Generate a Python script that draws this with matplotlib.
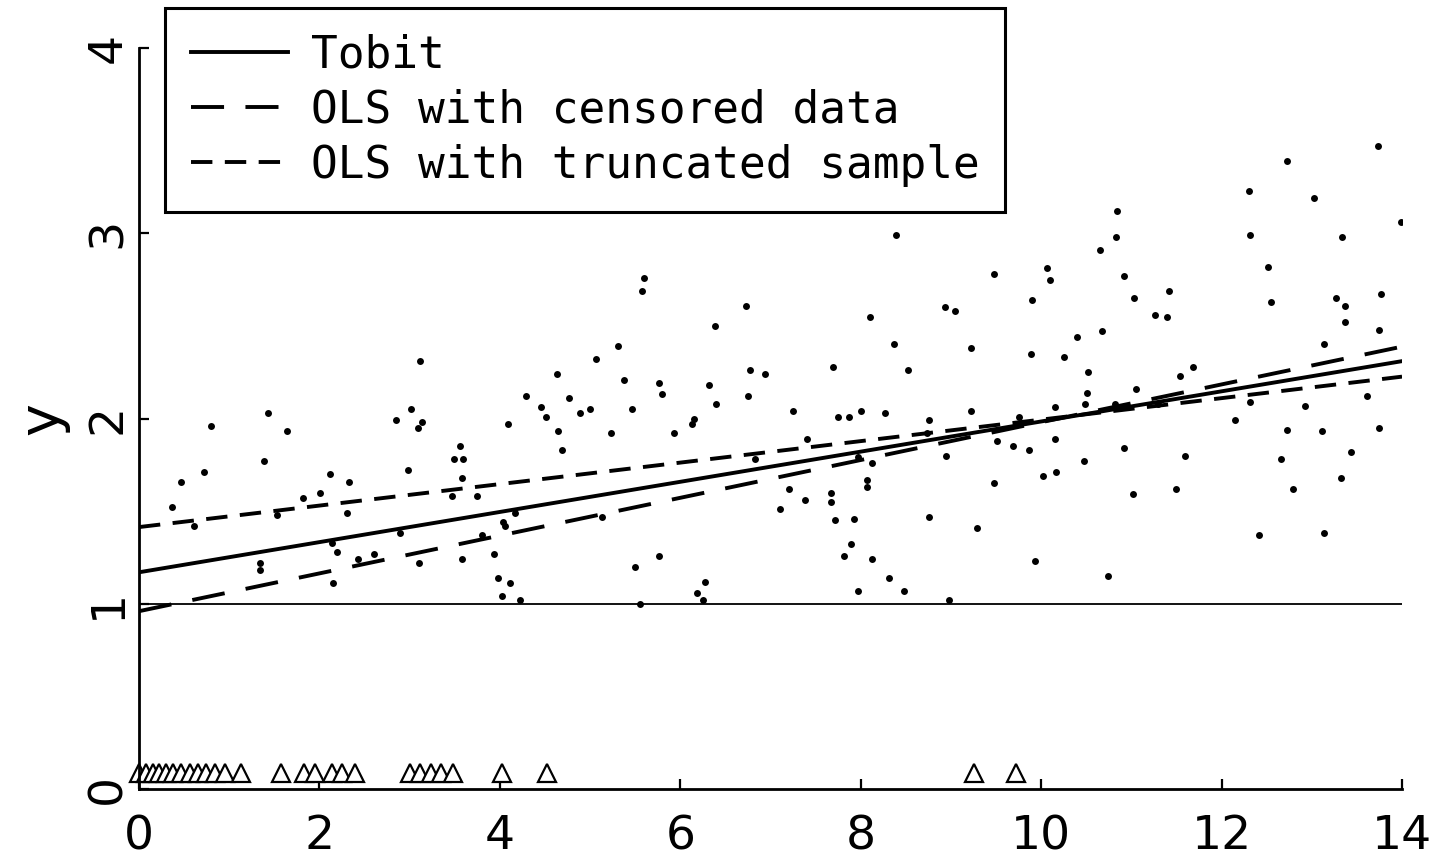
import numpy as np
import matplotlib
matplotlib.use("Agg")
import matplotlib.pyplot as plt

# observed (uncensored) points
dot_x = [3.12, 1.43, 0.80, 1.64, 2.85, 3.02, 3.14, 3.09, 3.56, 3.49, 3.59, 3.58,
         1.39, 0.72, 0.46, 0.37, 2.12, 2.33, 2.01, 1.82, 2.98, 2.30, 1.53, 0.61,
         3.47, 2.14, 2.20, 1.34, 1.34, 2.15, 2.43, 2.61, 3.10, 3.58, 2.89,
         5.60, 5.58, 6.73, 6.38, 5.31, 5.07, 6.77, 6.94, 4.63, 5.38, 5.76, 5.80,
         6.32, 4.29, 6.75, 4.77, 4.46, 4.51, 4.89, 5.00, 5.47, 6.40, 4.09, 6.15,
         6.13, 4.64, 5.23, 5.93, 4.69, 3.75, 4.17, 4.04, 4.06, 3.80, 5.13, 3.94,
         3.98, 4.11, 4.02, 4.22, 5.76, 5.50, 5.55, 6.27, 6.18, 6.25, 7.11, 6.83,
         8.39, 10.65, 10.06, 10.10, 9.48, 9.90, 8.10, 8.93, 9.04, 8.37, 9.22,
         10.40, 10.67, 9.89, 10.25, 7.69, 8.52, 10.52, 10.51, 10.49, 7.25, 7.75,
         7.87, 8.00, 8.27, 9.22, 10.15, 8.76, 9.75, 7.40, 9.51, 10.15, 9.69, 9.86,
         8.95, 10.47, 8.12, 7.97, 10.02, 10.16, 9.48, 8.07, 8.07, 7.21, 7.38,
         7.67, 7.67, 7.71, 7.93, 8.76, 9.29, 7.89, 7.82, 8.13, 9.93, 8.31, 7.97,
         8.48, 8.98, 8.73,
         13.73, 12.73, 12.30, 13.02, 10.84, 13.99, 10.83, 12.32, 13.34, 12.52,
         10.92, 11.03, 11.42, 11.26, 11.40, 12.55, 13.27, 13.37, 13.77, 13.37,
         13.74, 13.13, 11.68, 11.54, 11.05, 12.32, 12.92, 13.61, 12.15, 12.73,
         13.11, 13.74, 10.92, 11.59, 13.43, 12.66, 13.32, 11.50, 12.79, 11.02,
         12.41, 13.13, 10.74, 11.30, 10.82]
dot_y = [2.31, 2.03, 1.96, 1.93, 1.99, 2.05, 1.98, 1.95, 1.85, 1.78, 1.78, 1.68,
         1.77, 1.71, 1.66, 1.52, 1.70, 1.66, 1.60, 1.57, 1.72, 1.49, 1.48, 1.42,
         1.58, 1.33, 1.28, 1.22, 1.18, 1.11, 1.24, 1.27, 1.22, 1.24, 1.38,
         2.76, 2.69, 2.61, 2.50, 2.39, 2.32, 2.26, 2.24, 2.24, 2.21, 2.19, 2.13,
         2.18, 2.12, 2.12, 2.11, 2.06, 2.01, 2.03, 2.05, 2.05, 2.08, 1.97, 2.00,
         1.97, 1.93, 1.92, 1.92, 1.83, 1.58, 1.49, 1.44, 1.42, 1.37, 1.47, 1.27,
         1.14, 1.11, 1.04, 1.02, 1.26, 1.20, 1.00, 1.12, 1.06, 1.02, 1.51, 1.78,
         2.99, 2.91, 2.81, 2.75, 2.78, 2.64, 2.55, 2.60, 2.58, 2.40, 2.38,
         2.44, 2.47, 2.35, 2.33, 2.28, 2.26, 2.25, 2.14, 2.08, 2.04, 2.01,
         2.01, 2.04, 2.03, 2.04, 2.06, 1.99, 2.01, 1.89, 1.88, 1.89, 1.85, 1.83,
         1.80, 1.77, 1.76, 1.79, 1.69, 1.71, 1.65, 1.67, 1.63, 1.62, 1.56,
         1.60, 1.55, 1.45, 1.46, 1.47, 1.41, 1.32, 1.26, 1.24, 1.23, 1.14, 1.07,
         1.07, 1.02, 1.92,
         3.47, 3.39, 3.23, 3.19, 3.12, 3.06, 2.98, 2.99, 2.98, 2.82,
         2.77, 2.65, 2.69, 2.56, 2.55, 2.63, 2.65, 2.61, 2.67, 2.52,
         2.48, 2.40, 2.28, 2.23, 2.16, 2.09, 2.07, 2.12, 1.99, 1.94,
         1.93, 1.95, 1.84, 1.80, 1.82, 1.78, 1.68, 1.62, 1.62, 1.59,
         1.37, 1.38, 1.15, 2.08, 2.08]

# censored observations (shown as triangles near zero)
cens_x = [0.00, 0.08, 0.15, 0.22, 0.30, 0.38, 0.47, 0.56, 0.65, 0.74, 0.84, 0.95,
          1.13, 1.57, 1.83, 1.95, 2.14, 2.25, 2.39, 3.00, 3.12, 3.24, 3.35, 3.48,
          4.02, 4.52, 9.26, 9.72]
cens_level = 0.085

# fitted lines: intercept, slope
tobit_coef = [1.17, 0.0814]
ols_cens_coef = [0.96, 0.102]
ols_trunc_coef = [1.414, 0.058]
threshold = 1.0

x_line = np.array([0.0, 14.0])

plt.rcParams['font.family'] = ['DejaVu Sans']
fig = plt.figure(figsize=(14.39, 8.63), dpi=100)
ax = fig.add_axes([0.0966, 0.0857, 0.8777, 0.8587])

ax.plot(dot_x, dot_y, 'o', color='black', ms=5, mew=0)
ax.plot(cens_x, [cens_level] * len(cens_x), '^', mfc='white', mec='black',
        ms=13, mew=1.6, clip_on=False)
ax.plot(x_line, [threshold, threshold], color='black', lw=1.3)

l1, = ax.plot(x_line, tobit_coef[0] + tobit_coef[1] * x_line, color='black', lw=2.8)
l2, = ax.plot(x_line, ols_cens_coef[0] + ols_cens_coef[1] * x_line, color='black',
              lw=2.8, ls=(0, (8.5, 5.5)))
l3, = ax.plot(x_line, ols_trunc_coef[0] + ols_trunc_coef[1] * x_line, color='black',
              lw=2.8, ls=(0, (5.5, 3.2)))

ax.set_xlim(0, 14)
ax.set_ylim(0, 4)
ax.set_xticks(range(0, 15, 2))
ax.set_yticks(range(0, 5))
for s in ['top', 'right']:
    ax.spines[s].set_visible(False)
for s in ['left', 'bottom']:
    ax.spines[s].set_linewidth(2)
ax.tick_params(direction='in', length=7, width=1.6, labelsize=34)
ax.tick_params(axis='x', pad=18)
ax.tick_params(axis='y', pad=6)
for lab in ax.get_yticklabels():
    lab.set_rotation(90)
    lab.set_va('center')
ax.set_ylabel('y', fontsize=40, labelpad=12)

leg = fig.legend([l1, l2, l3],
                 ['Tobit', 'OLS with censored data', 'OLS with truncated sample'],
                 loc='upper left', bbox_to_anchor=(0.1147, 0.9907),
                 bbox_transform=fig.transFigure, borderaxespad=0,
                 prop={'family': 'DejaVu Sans Mono', 'size': 32},
                 handlelength=2.2, handletextpad=0.5,
                 labelspacing=0.27, borderpad=0.575, fancybox=False,
                 edgecolor='black', framealpha=1)
leg.get_frame().set_linewidth(2.2)

fig.savefig('out.png', dpi=100)
